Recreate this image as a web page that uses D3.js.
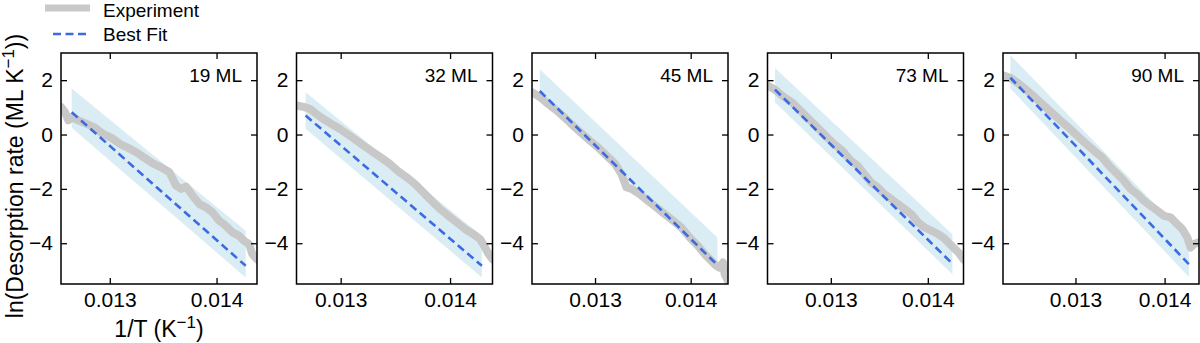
<!DOCTYPE html>
<html>
<head>
<meta charset="utf-8">
<script src="https://cdn.jsdelivr.net/npm/d3@7/dist/d3.min.js"></script>
<style>
  body { margin: 0; background: #fff; }
  svg text { font-family: "Liberation Sans", Arial, Helvetica, sans-serif; fill: #000; }
</style>
</head>
<body>
<svg id="chart"></svg>
<script>
// coverage label for each panel
const coverages = ["19 ML", "32 ML", "45 ML", "73 ML", "90 ML"];

// experiment: 1/T (K^-1) and ln(rate), one list per panel
const expInvT = [
  [0.012543,0.012581,0.012612,0.012643,0.012705,0.012783,0.012860,0.012938,0.013016,0.013093,0.013171,0.013248,0.013326,0.013404,0.013481,0.013559,0.013621,0.013668,0.013714,0.013776,0.013839,0.013901,0.013963,0.014025,0.014087,0.014149,0.014211,0.014258,0.014304,0.014335,0.014379],
  [0.012596,0.012670,0.012716,0.012777,0.012838,0.012914,0.012991,0.013067,0.013144,0.013220,0.013297,0.013373,0.013450,0.013526,0.013602,0.013679,0.013755,0.013832,0.013908,0.013985,0.014061,0.014138,0.014214,0.014275,0.014321,0.014352,0.014388],
  [0.012341,0.012422,0.012509,0.012596,0.012683,0.012770,0.012857,0.012944,0.013031,0.013118,0.013206,0.013275,0.013328,0.013380,0.013467,0.013554,0.013641,0.013728,0.013815,0.013902,0.013990,0.014077,0.014146,0.014216,0.014268,0.014303,0.014338,0.014355,0.014390],
  [0.012347,0.012424,0.012510,0.012597,0.012684,0.012771,0.012858,0.012944,0.013031,0.013118,0.013205,0.013274,0.013344,0.013413,0.013483,0.013552,0.013622,0.013691,0.013760,0.013830,0.013899,0.013969,0.014038,0.014108,0.014160,0.014212,0.014264,0.014316,0.014368],
  [0.012187,0.012270,0.012363,0.012457,0.012551,0.012644,0.012738,0.012831,0.012925,0.013019,0.013112,0.013206,0.013300,0.013393,0.013468,0.013543,0.013618,0.013693,0.013768,0.013843,0.013918,0.013993,0.014067,0.014142,0.014199,0.014255,0.014292,0.014330,0.014386]
];
const expRate = [
  [1.01,0.82,0.52,0.64,0.52,0.39,0.25,0.02,-0.12,-0.34,-0.49,-0.65,-0.86,-1.06,-1.21,-1.39,-1.88,-2.00,-1.92,-2.25,-2.56,-2.68,-2.87,-3.17,-3.36,-3.60,-3.73,-3.91,-4.03,-4.40,-4.59],
  [1.07,1.01,0.95,0.76,0.58,0.39,0.21,0.00,-0.22,-0.44,-0.65,-0.86,-1.08,-1.35,-1.57,-1.82,-2.13,-2.44,-2.74,-2.99,-3.23,-3.48,-3.67,-3.85,-4.16,-4.40,-4.59],
  [1.56,1.38,1.13,0.89,0.62,0.33,0.05,-0.22,-0.47,-0.77,-1.06,-1.45,-1.94,-2.00,-2.19,-2.44,-2.68,-2.93,-3.17,-3.42,-3.79,-4.10,-4.40,-4.65,-4.83,-4.90,-4.71,-5.14,-5.39],
  [1.81,1.65,1.40,1.19,0.89,0.58,0.27,-0.04,-0.34,-0.59,-0.96,-1.14,-1.45,-1.76,-1.94,-2.19,-2.37,-2.56,-2.74,-2.93,-3.23,-3.42,-3.54,-3.67,-3.79,-3.97,-4.16,-4.34,-4.59],
  [2.18,2.09,1.87,1.62,1.35,1.07,0.79,0.52,0.25,-0.04,-0.32,-0.59,-0.84,-1.21,-1.45,-1.70,-2.00,-2.19,-2.44,-2.62,-2.80,-2.99,-3.05,-3.30,-3.48,-3.79,-4.16,-4.03,-3.97]
];

// best fit line ends and the shaded band edges at the same two 1/T values
const fitInvT = [[0.012643,0.014273],[0.012679,0.014291],[0.012422,0.014279],[0.012424,0.014253],[0.012270,0.014273]];
const fitRate = [[0.82,-4.83],[0.70,-4.83],[1.60,-4.80],[1.65,-4.75],[2.09,-4.77]];
const bandUpper = [[1.69,-3.54],[1.56,-3.73],[2.40,-3.79],[2.45,-3.67],[2.92,-3.85]];
const bandLower = [[0.25,-5.26],[0.21,-5.26],[1.40,-4.90],[1.19,-5.14],[1.69,-5.24]];

const xTicks = [0.013, 0.014];
const yTicks = [2, 0, -2, -4];
const yRange = [-5.5, 3];

const W = 1200, H = 343;
const plotTop = 53, plotH = 231, plotW = 196;
const firstLeft = 61, pitch = 235.5;

const svg = d3.select("#chart").attr("width", W).attr("height", H);

const grey = "#c8c8c8", blue = "#3b6be3", bandFill = "#add8e6";

coverages.forEach((lab, i) => {
  const left = firstLeft + i * pitch;
  const g = svg.append("g").attr("transform", "translate(" + left + "," + plotTop + ")");

  const x = d3.scaleLinear().domain(d3.extent(expInvT[i])).range([0, plotW]);
  const y = d3.scaleLinear().domain(yRange).range([plotH, 0]);

  g.append("clipPath").attr("id", "clip" + i)
    .append("rect").attr("width", plotW).attr("height", plotH);

  const inner = g.append("g").attr("clip-path", "url(#clip" + i + ")");

  // band
  const band = d3.area()
    .x(d => x(d[0])).y0(d => y(d[2])).y1(d => y(d[1]));
  inner.append("path")
    .datum(fitInvT[i].map((t, k) => [t, bandUpper[i][k], bandLower[i][k]]))
    .attr("d", band)
    .attr("fill", bandFill)
    .attr("fill-opacity", 0.45);

  // experiment
  const line = d3.line().x(d => x(d[0])).y(d => y(d[1]));
  inner.append("path")
    .datum(expInvT[i].map((t, k) => [t, expRate[i][k]]))
    .attr("d", line)
    .attr("fill", "none")
    .attr("stroke", grey)
    .attr("stroke-width", 8)
    .attr("stroke-linejoin", "round")
    .attr("stroke-linecap", "round");

  // fit
  inner.append("path")
    .datum(fitInvT[i].map((t, k) => [t, fitRate[i][k]]))
    .attr("d", line)
    .attr("fill", "none")
    .attr("stroke", blue)
    .attr("stroke-width", 2.6)
    .attr("stroke-dasharray", "8,4.5");

  // axes, ticks pointing in
  const fmtX = d3.format(".3f");
  g.append("g").attr("transform", "translate(0," + plotH + ")")
    .call(d3.axisBottom(x).tickValues(xTicks).tickFormat(fmtX).tickSizeInner(-6).tickSizeOuter(0).tickPadding(8));
  g.append("g")
    .call(d3.axisTop(x).tickValues(xTicks).tickFormat("").tickSizeInner(-6).tickSizeOuter(0));
  g.append("g")
    .call(d3.axisLeft(y).tickValues(yTicks).tickFormat(d3.format("d")).tickSizeInner(-6).tickSizeOuter(0).tickPadding(8));
  g.append("g").attr("transform", "translate(" + plotW + ",0)")
    .call(d3.axisRight(y).tickValues(yTicks).tickFormat("").tickSizeInner(-6).tickSizeOuter(0));

  g.selectAll(".domain").remove();
  g.selectAll(".tick line").attr("stroke", "#000").attr("stroke-width", 1.3);
  g.selectAll(".tick text").attr("font-size", 21).attr("fill", "#000");

  g.append("rect").attr("width", plotW).attr("height", plotH)
    .attr("fill", "none").attr("stroke", "#000").attr("stroke-width", 1.5);

  g.append("text")
    .attr("x", plotW - 15).attr("y", 29)
    .attr("text-anchor", "end").attr("font-size", 19)
    .text(lab);
});

// axis labels
const xl = svg.append("text")
  .attr("x", firstLeft + plotW / 2).attr("y", 337)
  .attr("text-anchor", "middle").attr("font-size", 23);
xl.append("tspan").text("1/T (K");
xl.append("tspan").attr("dy", -9).attr("font-size", 17).text("\u22121");
xl.append("tspan").attr("dy", 9).text(")");

const yl = svg.append("text")
  .attr("transform", "translate(23,176) rotate(-90)")
  .attr("text-anchor", "middle").attr("font-size", 23);
yl.append("tspan").text("ln(Desorption rate (ML K");
yl.append("tspan").attr("dy", -9).attr("font-size", 17).text("\u22121");
yl.append("tspan").attr("dy", 9).text("))");

// legend
const lg = svg.append("g");
lg.append("line").attr("x1", 45).attr("x2", 90).attr("y1", 8).attr("y2", 8)
  .attr("stroke", grey).attr("stroke-width", 7);
lg.append("line").attr("x1", 53).attr("x2", 90).attr("y1", 34).attr("y2", 34)
  .attr("stroke", blue).attr("stroke-width", 2.6).attr("stroke-dasharray", "8,4.5");
lg.append("text").attr("x", 103).attr("y", 17).attr("font-size", 19).text("Experiment");
lg.append("text").attr("x", 103).attr("y", 41).attr("font-size", 19).text("Best Fit");
</script>
</body>
</html>
